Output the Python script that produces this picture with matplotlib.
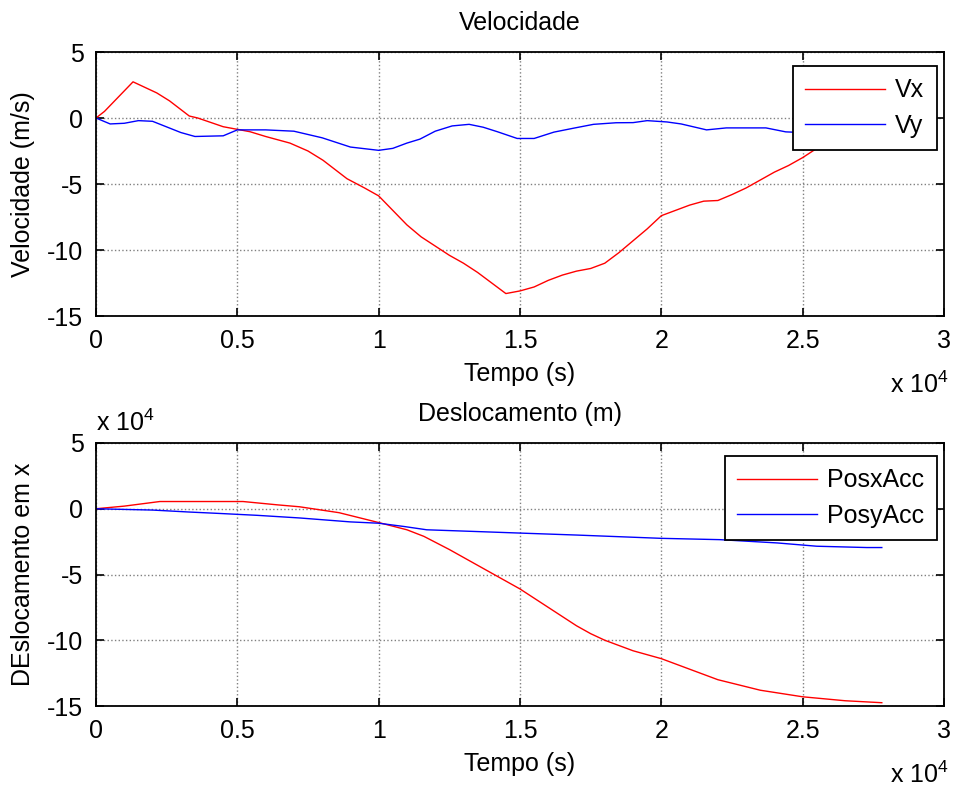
import matplotlib
matplotlib.use("Agg")
import matplotlib.pyplot as plt
from matplotlib.ticker import FixedLocator, FuncFormatter

plt.rcParams['font.family'] = ['Liberation Sans', 'DejaVu Sans']
plt.rcParams['mathtext.fontset'] = 'custom'
plt.rcParams['mathtext.rm'] = 'Liberation Sans'
FS = 18

# ---- Velocity data (time in s, velocity in m/s) ----
t_vx = [0, 300, 1310, 2150, 2600, 3300, 3600, 4500, 5450, 6000, 6860, 7500, 8030, 8880,
        9500, 10000, 10500, 11000, 11500, 12000, 12500, 13000, 13500, 14000, 14500,
        15000, 15500, 16000, 16500, 17000, 17500, 18000, 18500, 19000, 19500, 20000,
        20500, 21000, 21500, 22000, 22500, 23000, 23500, 24000, 24500, 25000, 25500,
        26500, 27800]
vx = [0, 0.5, 2.74, 1.9, 1.3, 0.15, 0.0, -0.66, -1.04, -1.4, -1.9, -2.5, -3.2, -4.6,
      -5.3, -5.9, -7.0, -8.1, -9.0, -9.7, -10.4, -11.0, -11.7, -12.5, -13.3,
      -13.1, -12.8, -12.3, -11.9, -11.6, -11.4, -11.0, -10.2, -9.3, -8.4, -7.4,
      -7.0, -6.6, -6.3, -6.25, -5.8, -5.3, -4.7, -4.1, -3.6, -3.0, -2.3,
      -1.4, -0.6]

t_vy = [0, 500, 1000, 1500, 2000, 3000, 3500, 4500, 5000, 6000, 7000, 8000, 9000,
        10000, 10500, 11000, 11460, 12000, 12600, 13200, 13700, 14200, 14900, 15500,
        16200, 16900, 17600, 18400, 19000, 19500, 20200, 20700, 21600, 22300, 23000,
        23700, 24400, 25500, 27800]
vy = [0, -0.45, -0.4, -0.2, -0.25, -1.1, -1.4, -1.35, -0.9, -0.9, -1.0, -1.5, -2.2,
      -2.45, -2.3, -1.9, -1.6, -1.0, -0.6, -0.48, -0.7, -1.04, -1.55, -1.55,
      -1.07, -0.77, -0.48, -0.36, -0.35, -0.2, -0.3, -0.45, -0.9, -0.75, -0.75,
      -0.75, -1.05, -1.15, -1.2]

# ---- Displacement data (time in s, displacement in units of 1e4 m) ----
t_px = [0, 1000, 2260, 3500, 5200, 6400, 7200, 8600, 10000, 11000, 11600, 12500,
        13500, 15000, 16000, 16500, 17000, 17500, 18000, 19000, 20000, 22000, 23500,
        25000, 26500, 27800]
px = [0, 0.2, 0.55, 0.55, 0.55, 0.3, 0.15, -0.3, -1.05, -1.6, -2.1, -3.1,
      -4.3, -6.1, -7.5, -8.2, -8.9, -9.5, -10.0, -10.8, -11.4, -13.0, -13.8,
      -14.3, -14.6, -14.75]

t_py = [0, 2000, 3300, 4300, 5700, 7200, 9000, 10000, 10900, 11700, 13300, 15000,
        17000, 20000, 22070, 24100, 25500, 27270, 27800]
py = [0, -0.1, -0.25, -0.35, -0.5, -0.7, -1.0, -1.1, -1.35, -1.6, -1.72, -1.85,
      -2.0, -2.25, -2.35, -2.6, -2.85, -2.95, -2.95]

x_ticks = [0, 5000, 10000, 15000, 20000, 25000, 30000]
y_ticks = [-15, -10, -5, 0, 5]

fig = plt.figure(figsize=(9.59, 7.87), dpi=100)
ax1 = fig.add_axes([96/959, 1-316/787, 848/959, 264/787])
ax2 = fig.add_axes([96/959, 1-706/787, 848/959, 263/787])


def fmt_x(v, pos):
    return '%g' % (v / 1e4)


for ax in (ax1, ax2):
    ax.set_xlim(0, 30000)
    ax.set_ylim(-15, 5)
    ax.xaxis.set_major_locator(FixedLocator(x_ticks))
    ax.yaxis.set_major_locator(FixedLocator(y_ticks))
    ax.xaxis.set_major_formatter(FuncFormatter(fmt_x))
    ax.yaxis.set_major_formatter(FuncFormatter(lambda v, p: '%g' % v))
    ax.tick_params(direction='in', length=6, width=1.2, top=True, right=True,
                   labelsize=FS, pad=9)
    ax.grid(True, linestyle=':', color='0.5', linewidth=1.0)
    for s in ax.spines.values():
        s.set_linewidth(1.3)

ax1.plot(t_vx, vx, color='red', lw=1.0, label='Vx')
ax1.plot(t_vy, vy, color='blue', lw=1.0, label='Vy')
ax1.set_title('Velocidade', fontsize=FS, pad=16)
ax1.set_xlabel('Tempo (s)', fontsize=FS, labelpad=7)
ax1.set_ylabel('Velocidade (m/s)', fontsize=FS, labelpad=9)

ax2.plot(t_px, px, color='red', lw=1.0, label='PosxAcc')
ax2.plot(t_py, py, color='blue', lw=1.0, label='PosyAcc')
ax2.set_title('Deslocamento (m)', fontsize=FS, pad=16)
ax2.set_xlabel('Tempo (s)', fontsize=FS, labelpad=7)
ax2.set_ylabel('DEslocamento em x', fontsize=FS, labelpad=9)

for ax, anchor in ((ax1, (0.9917, 0.947)), (ax2, (0.9917, 0.9506))):
    leg = ax.legend(loc='upper right', bbox_to_anchor=anchor, fontsize=FS,
                    frameon=True, fancybox=False, framealpha=1, edgecolor='black',
                    handlelength=3.2, handletextpad=0.4, borderpad=0.5,
                    labelspacing=0.45, borderaxespad=0)
    leg.get_frame().set_linewidth(1.3)

# MATLAB-style exponent labels
fig.text(890/959, 1-385/787, r'x 10$^{\mathregular{4}}$', fontsize=FS, ha='left', va='center')
fig.text(890/959, 1-775/787, r'x 10$^{\mathregular{4}}$', fontsize=FS, ha='left', va='center')
fig.text(96/959, 1-423/787, r'x 10$^{\mathregular{4}}$', fontsize=FS, ha='left', va='center')

fig.savefig('out.png', dpi=100, facecolor='white')
